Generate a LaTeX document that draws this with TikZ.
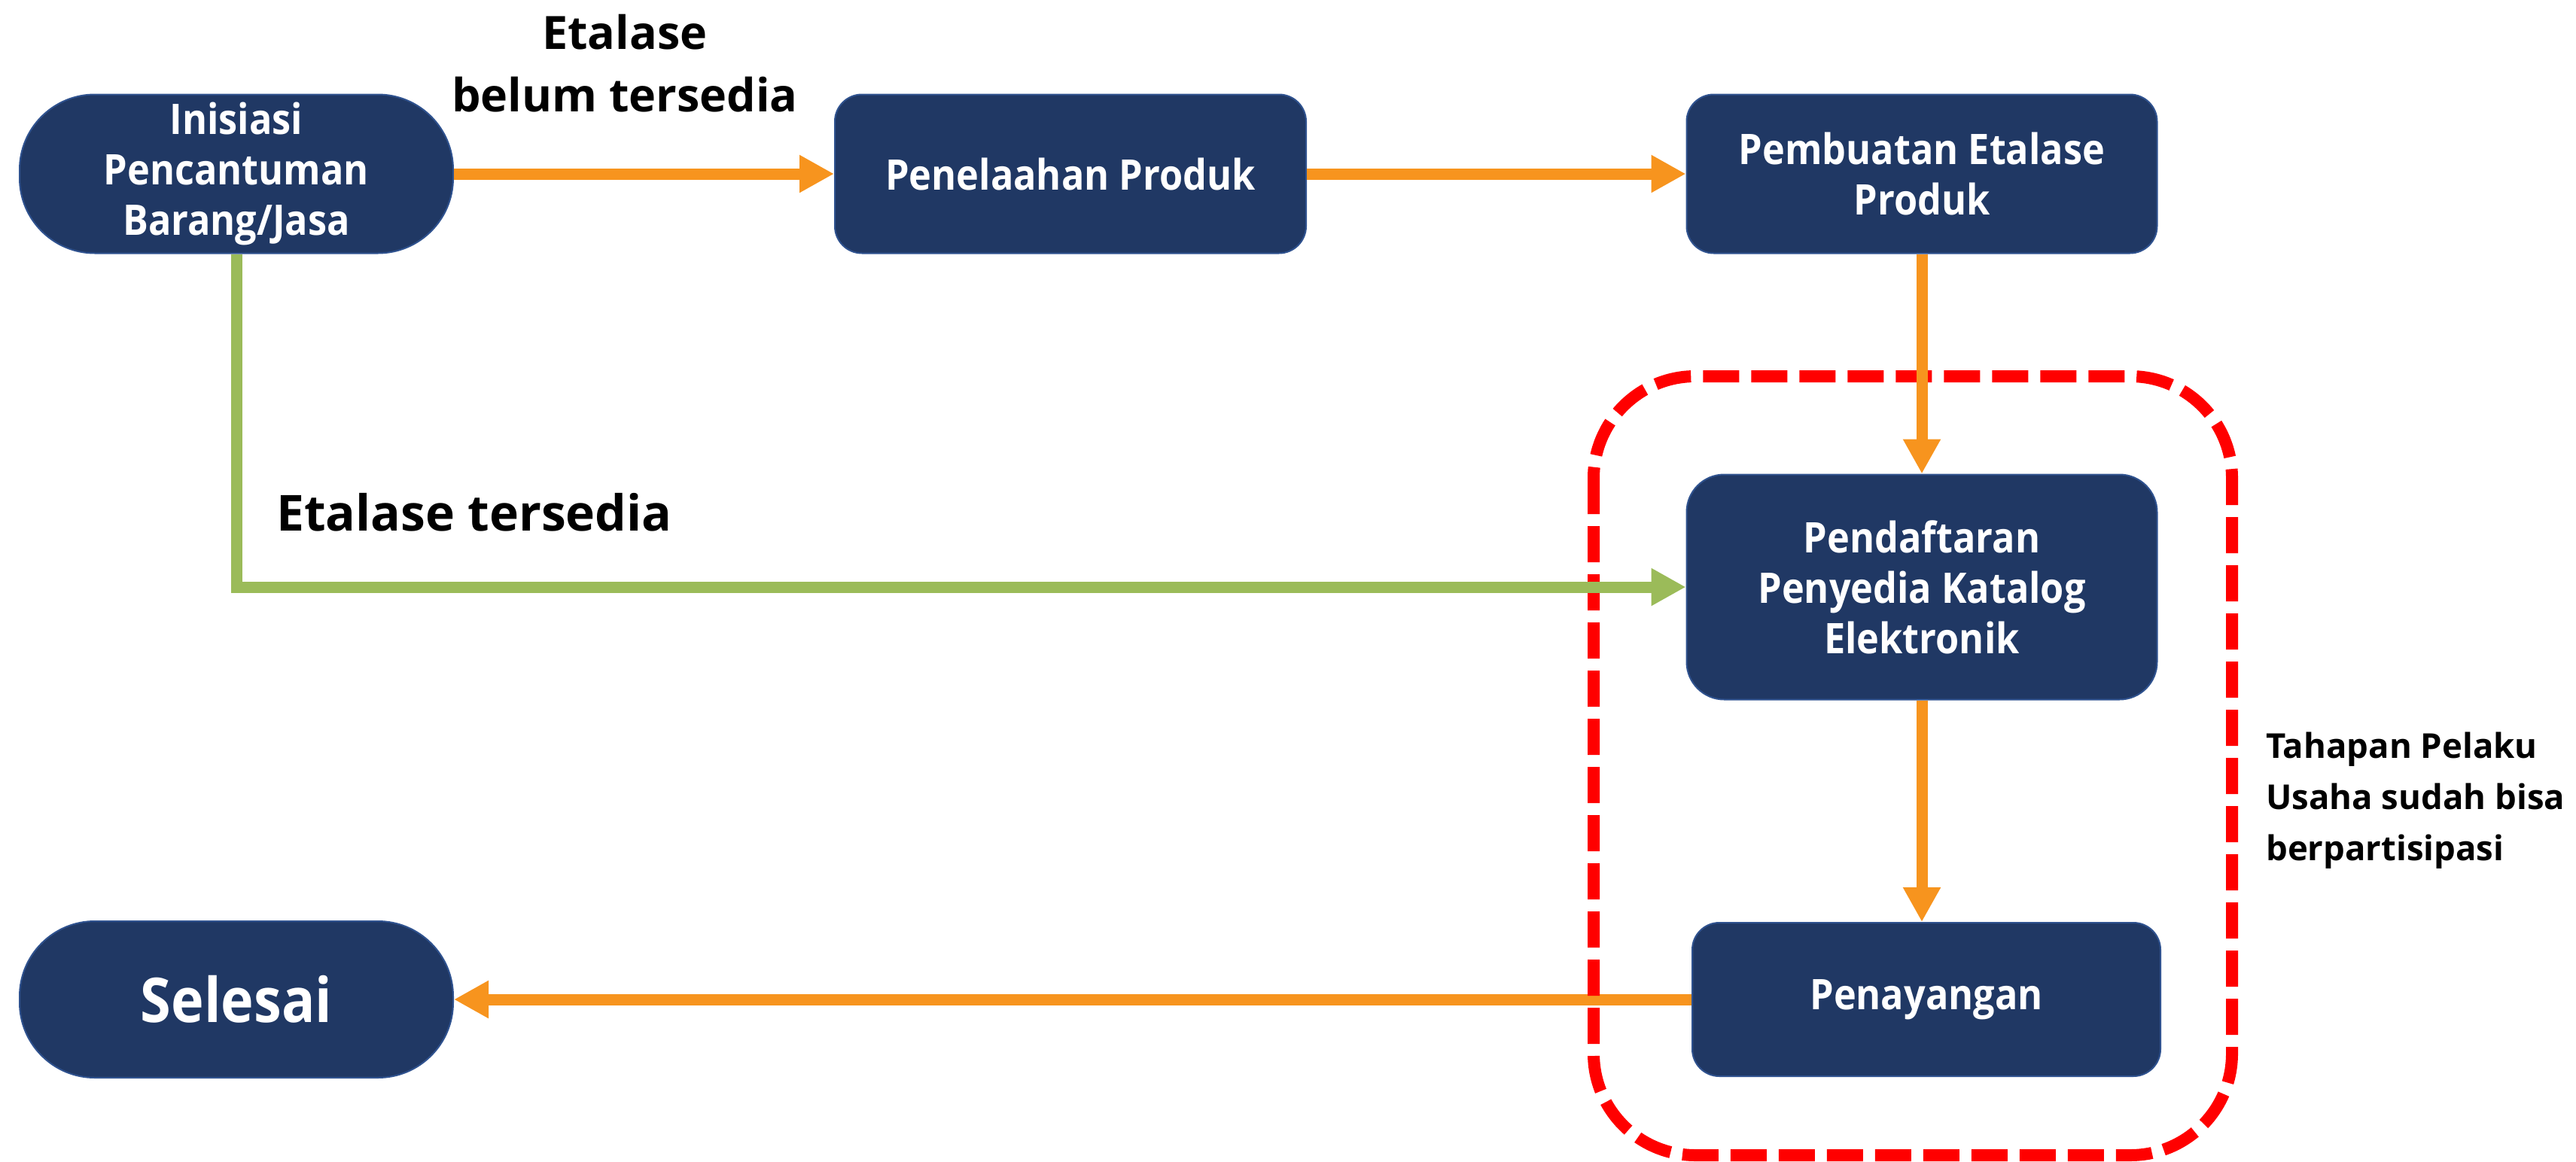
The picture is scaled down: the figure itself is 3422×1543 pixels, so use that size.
\documentclass[tikz,border=0pt]{standalone}
\usepackage{fontspec}
\setmainfont{Open Sans}
\newfontfamily\nodefont{Open Sans}[FakeStretch=0.9]
\usetikzlibrary{arrows.meta}
\definecolor{navy}{RGB}{32,56,100}
\definecolor{navyedge}{RGB}{47,82,143}
\definecolor{flowor}{RGB}{247,148,30}
\definecolor{flowgr}{RGB}{155,187,89}
\definecolor{frred}{RGB}{255,0,0}
\tikzset{
  box/.style={draw=navyedge, line width=2pt, fill=navy, text=white, align=center,
    font=\nodefont\bfseries\fontsize{56}{67}\selectfont, inner sep=0pt},
  stadium/.style={box, rounded corners=100pt},
  proc/.style={box, rounded corners=36pt},
  orarrow/.style={draw=flowor, line width=15pt, -{Triangle[width=47pt,length=46pt]}},
  grarrow/.style={draw=flowgr, line width=15pt, -{Triangle[width=47pt,length=46pt]}},
  lbl/.style={font=\bfseries\fontsize{61}{83}\selectfont, inner sep=0pt, align=center},
  note/.style={font=\bfseries\fontsize{45.5}{68}\selectfont, inner sep=0pt, align=left},
}
\begin{document}
\begin{tikzpicture}[x=1pt,y=-1pt]
\useasboundingbox (0,0) rectangle (3422,1543);
% nodes
\node[stadium, minimum width=576pt, minimum height=211pt] (ini) at (314,231) {Inisiasi\\Pencantuman\\Barang/Jasa};
\node[proc, minimum width=626pt, minimum height=211pt] (tel) at (1422,231) {Penelaahan Produk};
\node[proc, minimum width=625pt, minimum height=211pt] (buat) at (2553,231) {Pembuatan Etalase\\Produk};
\node[proc, rounded corners=50pt, minimum width=625pt, minimum height=299pt] (daftar) at (2553,780) {Pendaftaran\\Penyedia Katalog\\Elektronik};
\node[proc, minimum width=622pt, minimum height=204pt] (tayang) at (2559,1328) {Penayangan};
\node[stadium, minimum width=576pt, minimum height=208pt, font=\nodefont\bfseries\fontsize{82}{90}\selectfont] (selesai) at (314,1328) {Selesai};
% labels
\node[lbl] (lbelum) at (830,84) {Etalase\\belum tersedia};
\node[lbl, anchor=base west, font=\bfseries\fontsize{66}{81}\selectfont] (lada) at (367,705) {Etalase tersedia};
\node[note, anchor=west] (lnote) at (3010,1064) {Tahapan Pelaku\\Usaha sudah bisa\\berpartisipasi};
% bottom arrow (under frame)
\draw[orarrow] (tayang.west) -- (selesai.east);
% frame
\draw[frred, line width=16pt, dash pattern=on 48pt off 16pt, rounded corners=135pt] (2117,500) rectangle (2965,1535);
% arrows
\draw[orarrow] (ini.east) -- (tel.west);
\draw[orarrow] (tel.east) -- (buat.west);
\draw[orarrow] (buat.south) -- (daftar.north);
\draw[orarrow] (daftar.south) -- (daftar.south |- tayang.north);
\draw[grarrow] (ini.south) |- (daftar.west);
\end{tikzpicture}
\end{document}
